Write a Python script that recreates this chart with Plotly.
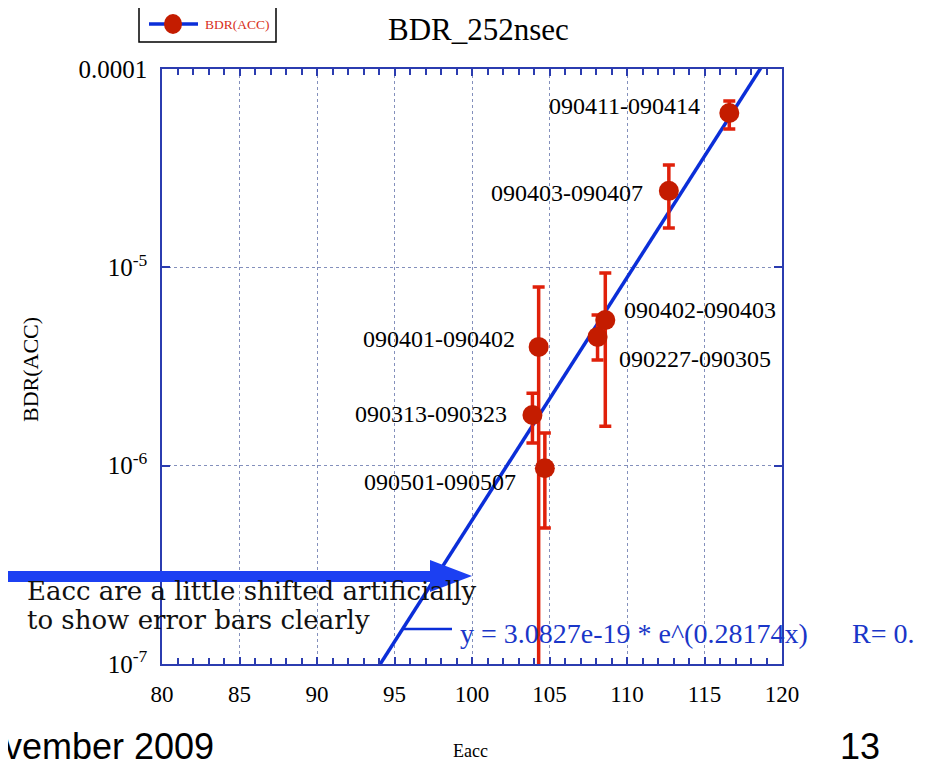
import math
import plotly.graph_objects as go

# ---------------- data ----------------
run_labels = ["090411-090414", "090403-090407", "090402-090403", "090227-090305",
              "090401-090402", "090313-090323", "090501-090507"]
eacc = [116.6, 112.7, 108.6, 108.1, 104.3, 103.9, 104.7]
bdr = [6.0e-5, 2.43e-5, 5.42e-6, 4.46e-6, 3.97e-6, 1.80e-6, 9.7e-7]
bdr_hi = [6.9e-5, 3.28e-5, 9.35e-6, 5.75e-6, 7.96e-6, 2.32e-6, 1.46e-6]
bdr_lo = [4.98e-5, 1.58e-5, 1.58e-6, 3.41e-6, 0.0, 1.30e-6, 4.85e-7]

# fit line y = 3.0827e-19 * exp(0.28174 x), end points
fit_x = [93.9, 118.8]
fit_y = [9.5e-8, 1.06e-4]
fit_text = "y = 3.0827e-19 * e^(0.28174x)"
fit_r_text = "R= 0."

x_range = [80, 120]
y_tickvals = [1e-4, 1e-5, 1e-6, 1e-7]
y_ticktext = ["0.0001", "10<sup>-5</sup>", "10<sup>-6</sup>", "10<sup>-7</sup>"]

# label offsets (pixels) relative to each point: (xanchor, xshift, yshift)
label_pos = [("right", -27, 7), ("right", -24, -2), ("left", 17, 10), ("left", 19, -22),
             ("right", -22, 8), ("right", -23, 1), ("right", -27, -14)]

# ---------------- geometry helpers (screen pixels) ----------------
OFF = 8                      # page body margin
W, H = 925 - OFF, 764 - OFF  # figure size
SX0, SX1, SY0, SY1 = 162, 782, 69, 664   # plot area in screen pixels


def px(x):
    return (x - SX0) / (SX1 - SX0)


def py(y):
    return (SY1 - y) / (SY1 - SY0)


SERIF = "Liberation Serif"
AXIS_COL = "#2b3cb0"
GRID_COL = "#8490bc"
RED = "#c41c00"
ERR_RED = "#e0200a"
BLUE = "#0b2ed8"
ARROW_BLUE = "#1c40f2"

fig = go.Figure()

fig.add_trace(go.Scatter(
    x=fit_x, y=fit_y, mode="lines",
    line=dict(color=BLUE, width=3.5), showlegend=False, hoverinfo="skip"))

err_plus = [h - v for h, v in zip(bdr_hi, bdr)]
err_minus = [v - l for v, l in zip(bdr, bdr_lo)]
fig.add_trace(go.Scatter(
    x=eacc, y=bdr, mode="markers",
    marker=dict(color=RED, size=20, line=dict(width=0)),
    error_y=dict(type="data", array=err_plus, arrayminus=err_minus,
                 color=ERR_RED, thickness=3.5, width=6),
    showlegend=False, cliponaxis=False))

ann = []
for lab, xv, yv, (anc, xs, ys) in zip(run_labels, eacc, bdr, label_pos):
    ann.append(dict(x=xv, y=math.log10(yv), xref="x", yref="y", text=lab, showarrow=False,
                    xanchor=anc, yanchor="middle", xshift=xs, yshift=ys,
                    font=dict(family=SERIF, size=24, color="black")))

# title
ann.append(dict(x=px(479), y=py(29), xref="paper", yref="paper", text="BDR_252nsec",
                showarrow=False, xanchor="center", yanchor="middle",
                font=dict(family=SERIF, size=31, color="black")))
# legend text
ann.append(dict(x=px(203), y=py(24), xref="paper", yref="paper", text="BDR(ACC)",
                showarrow=False, xanchor="left", yanchor="middle",
                font=dict(family=SERIF, size=13.5, color="#d83020")))
# axis titles
ann.append(dict(x=px(30), y=py(370), xref="paper", yref="paper", text="BDR(ACC)",
                showarrow=False, xanchor="center", yanchor="middle", textangle=-90,
                font=dict(family=SERIF, size=22, color="black")))
ann.append(dict(x=px(470), y=py(751), xref="paper", yref="paper", text="Eacc",
                showarrow=False, xanchor="center", yanchor="middle",
                font=dict(family=SERIF, size=18, color="black")))
# note text
ann.append(dict(x=px(25), y=py(591), xref="paper", yref="paper",
                text="Eacc are a little shifted artificially",
                showarrow=False, xanchor="left", yanchor="middle",
                font=dict(family="DejaVu Serif", size=26, color="#111111")))
ann.append(dict(x=px(25), y=py(620), xref="paper", yref="paper",
                text="to show error bars clearly",
                showarrow=False, xanchor="left", yanchor="middle",
                font=dict(family="DejaVu Serif", size=26, color="#111111")))
# fit equation
ann.append(dict(x=px(458), y=py(633), xref="paper", yref="paper", text=fit_text,
                showarrow=False, xanchor="left", yanchor="middle",
                font=dict(family=SERIF, size=28, color="#1a36c8")))
ann.append(dict(x=px(850), y=py(633), xref="paper", yref="paper", text=fit_r_text,
                showarrow=False, xanchor="left", yanchor="middle",
                font=dict(family=SERIF, size=28, color="#1a36c8")))
# footer
ann.append(dict(x=px(216), y=py(746), xref="paper", yref="paper", text="vember 2009",
                showarrow=False, xanchor="right", yanchor="middle",
                font=dict(family="Liberation Sans", size=36, color="black")))
ann.append(dict(x=px(882), y=py(746), xref="paper", yref="paper", text="13",
                showarrow=False, xanchor="right", yanchor="middle",
                font=dict(family="Liberation Sans", size=36, color="black")))

shapes = []
# top box
for (xa, ya, xb, yb) in [(408, 5, 917, 5), (408, -5, 408, 5), (690, -5, 690, 5), (917, -5, 917, 5)]:
    shapes.append(dict(type="line", xref="paper", yref="paper",
                       x0=px(xa), y0=py(ya), x1=px(xb), y1=py(yb),
                       line=dict(color="black", width=2)))
# legend box
shapes.append(dict(type="rect", xref="paper", yref="paper",
                   x0=px(139), y0=py(42), x1=px(276), y1=py(5),
                   line=dict(color="black", width=1.5), fillcolor="white"))
shapes.append(dict(type="line", xref="paper", yref="paper",
                   x0=px(149), y0=py(24), x1=px(198), y1=py(24),
                   line=dict(color=BLUE, width=3.5)))
shapes.append(dict(type="circle", xref="paper", yref="paper",
                   x0=px(164), y0=py(34), x1=px(182), y1=py(14),
                   line=dict(width=0), fillcolor=RED))
# fit equation key line
shapes.append(dict(type="line", xref="paper", yref="paper",
                   x0=px(404), y0=py(629), x1=px(452), y1=py(629),
                   line=dict(color=BLUE, width=2.5)))
# big arrow
shapes.append(dict(type="rect", xref="paper", yref="paper",
                   x0=px(-5), y0=py(582), x1=px(432), y1=py(571),
                   line=dict(width=0), fillcolor=ARROW_BLUE))
shapes.append(dict(type="path", xref="paper", yref="paper",
                   path="M {} {} L {} {} L {} {} Z".format(px(430), py(560), px(472), py(576), px(430), py(592)),
                   line=dict(width=0), fillcolor=ARROW_BLUE))

fig.update_layout(
    width=W, height=H, autosize=False,
    margin=dict(l=SX0 - OFF, r=W - (SX1 - OFF), t=SY0 - OFF, b=H - (SY1 - OFF), pad=0),
    paper_bgcolor="white", plot_bgcolor="white",
    showlegend=False,
    annotations=ann, shapes=shapes,
    xaxis=dict(range=x_range, tickmode="linear", tick0=80, dtick=5, ticks="inside", ticklen=7,
               tickcolor=AXIS_COL, tickwidth=1.5,
               showline=True, linecolor=AXIS_COL, linewidth=1.5, mirror="allticks",
               showgrid=True, gridcolor=GRID_COL, griddash="dot", gridwidth=1.2,
               zeroline=False, ticklabelstandoff=9,
               minor=dict(tick0=80, dtick=1, ticks="inside", ticklen=6, tickcolor=AXIS_COL,
                          tickwidth=1.5, showgrid=False),
               tickfont=dict(family=SERIF, size=23, color="black")),
    yaxis=dict(type="log", range=[-7, -4], tickvals=y_tickvals, ticktext=y_ticktext,
               ticks="inside", ticklen=8, tickcolor=AXIS_COL, tickwidth=1.5,
               showline=True, linecolor=AXIS_COL, linewidth=1.5, mirror="allticks",
               showgrid=True, gridcolor=GRID_COL, griddash="dot", gridwidth=1.2,
               zeroline=False, ticklabelstandoff=8,
               tickfont=dict(family=SERIF, size=25, color="black")),
)

fig.write_html("out.html")
